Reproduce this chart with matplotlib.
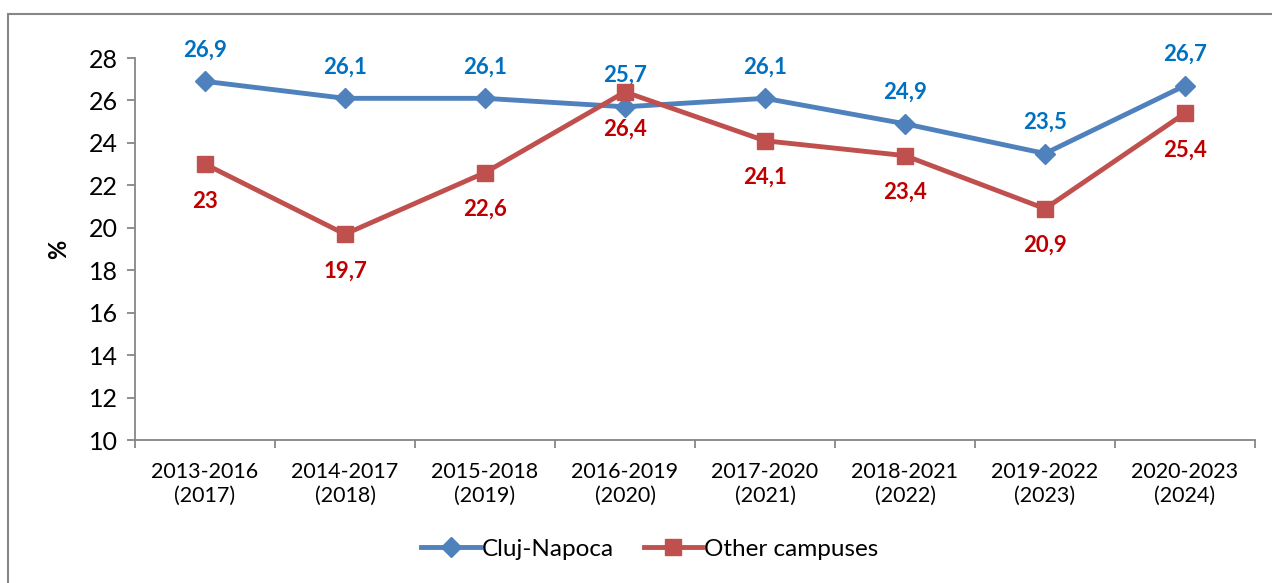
"""Graduation rate by cohort: Cluj-Napoca vs other campuses."""

import matplotlib

matplotlib.use("Agg")

import matplotlib.pyplot as plt
from matplotlib.patches import Rectangle

plt.rcParams["font.family"] = ["Lato", "DejaVu Sans"]

categories = [
    "2013-2016\n(2017)",
    "2014-2017\n(2018)",
    "2015-2018\n(2019)",
    "2016-2019\n(2020)",
    "2017-2020\n(2021)",
    "2018-2021\n(2022)",
    "2019-2022\n(2023)",
    "2020-2023\n(2024)",
]
cluj = [26.9, 26.1, 26.1, 25.7, 26.1, 24.9, 23.5, 26.7]
other = [23.0, 19.7, 22.6, 26.4, 24.1, 23.4, 20.9, 25.4]
cluj_labels = ["26,9", "26,1", "26,1", "25,7", "26,1", "24,9", "23,5", "26,7"]
other_labels = ["23", "19,7", "22,6", "26,4", "24,1", "23,4", "20,9", "25,4"]

BLUE_LINE = "#4F81BD"
RED_LINE = "#C0504D"
BLUE_TEXT = "#0070C0"
RED_TEXT = "#C00000"
AXIS_GREY = "#868686"

fig = plt.figure(figsize=(12.72, 5.83), dpi=100)
fig.patches.append(
    Rectangle((8 / 1272, -0.1), 1.2, 1 - 14 / 583 + 0.1, transform=fig.transFigure,
              fill=False, edgecolor=AXIS_GREY, linewidth=1.5)
)

ax = fig.add_axes([135 / 1272, 1 - 440 / 583, 1120 / 1272, 382 / 583])
x = list(range(len(categories)))

ax.plot(x, cluj, color=BLUE_LINE, linewidth=3.5, marker="D", markersize=10,
        markeredgecolor=BLUE_LINE, label="Cluj-Napoca", zorder=3)
ax.plot(x, other, color=RED_LINE, linewidth=3.5, marker="s", markersize=12,
        markeredgecolor=RED_LINE, label="Other campuses", zorder=4)

for xi, v, s in zip(x, cluj, cluj_labels):
    ax.annotate(s, (xi, v), xytext=(0, 15), textcoords="offset points",
                ha="center", va="bottom", color=BLUE_TEXT, fontsize=16, fontweight="bold")
for xi, v, s in zip(x, other, other_labels):
    ax.annotate(s, (xi, v), xytext=(0, -19), textcoords="offset points",
                ha="center", va="top", color=RED_TEXT, fontsize=16, fontweight="bold")

ax.set_xlim(-0.5, len(categories) - 0.5)
ax.set_ylim(10, 28)
ax.set_yticks(range(10, 29, 2))
ax.set_xticks(x)
ax.set_xticklabels(categories, fontsize=15.5, linespacing=1.25)
ax.set_xticks([i - 0.5 for i in range(len(categories) + 1)], minor=True)
ax.tick_params(axis="x", which="major", length=0, pad=16)
ax.tick_params(axis="x", which="minor", length=6, color=AXIS_GREY, width=1.3)
ax.tick_params(axis="y", labelsize=18, length=6, color=AXIS_GREY, width=1.3, pad=6)
ax.set_ylabel("%", fontsize=17, fontweight="bold", labelpad=14)

for side in ("top", "right"):
    ax.spines[side].set_visible(False)
for side in ("left", "bottom"):
    ax.spines[side].set_color(AXIS_GREY)
    ax.spines[side].set_linewidth(1.3)

fig.legend(loc="center", bbox_to_anchor=(650 / 1272, 1 - 549 / 583), ncol=2, frameon=False,
           fontsize=17.5, handlelength=2.4, handletextpad=0.1, columnspacing=1.2)

fig.savefig("out.png", dpi=100)
